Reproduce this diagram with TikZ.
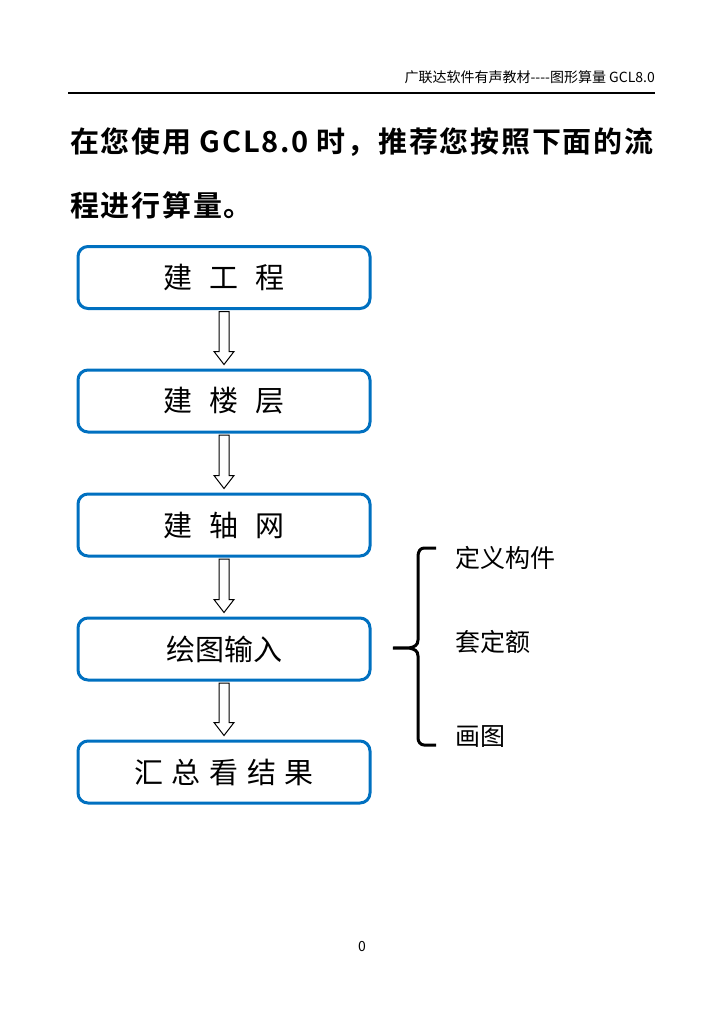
\documentclass[tikz,border=0pt]{standalone}
\usepackage{fontspec}
\usetikzlibrary{calc}
\setmainfont{Noto Sans CJK SC}
\newfontfamily\cjkb[LetterSpace=6]{Noto Sans CJK SC Bold}
\begin{document}
\begin{tikzpicture}[x=1pt,y=-1pt,
  box/.style={draw={rgb,255:red,0;green,112;blue,192},line width=3pt,rounded corners=10pt,minimum width=292pt,minimum height=62pt,inner sep=0pt,font=\fontsize{29}{29}\selectfont},
  side/.style={anchor=west,inner sep=0pt,font=\fontsize{25}{25}\selectfont}]
\useasboundingbox (0,0) rectangle (724,1024);
\node[anchor=east,inner sep=0pt,font=\fontsize{14}{14}\selectfont] (hdr) at (655,77) {广联达软件有声教材{-}{-}{-}{-}图形算量 GCL8.0};
\draw[line width=1.6pt] (68,93) -- (655,93);
\node[anchor=west,inner sep=0pt,font=\cjkb\fontsize{29}{29}\selectfont] (t1) at (70,142) {在您使用 GCL8.0 时，推荐您按照下面的流};
\node[anchor=west,inner sep=0pt,font=\cjkb\fontsize{29}{29}\selectfont] (t2) at (70,205) {程进行算量。};
\node[box] (b1) at (224,277.5) {建\hspace{0.6em}工\hspace{0.6em}程};
\node[box] (b2) at (224,401) {建\hspace{0.6em}楼\hspace{0.6em}层};
\node[box] (b3) at (224,525) {建\hspace{0.6em}轴\hspace{0.6em}网};
\node[box] (b4) at (224,649) {绘图输入};
\node[box] (b5) at (224,772) {汇\hspace{0.3em}总\hspace{0.3em}看\hspace{0.3em}结\hspace{0.3em}果};
\foreach \a/\b in {b1/b2,b2/b3,b3/b4,b4/b5}{
  \path (\a.south) ++(0,1.5) coordinate (s) (\b.north) ++(0,-4) coordinate (e);
  \draw[line width=1pt,fill=white] ($(s)+(-5,0)$) -- ($(e)+(-5,-13)$) -- ($(e)+(-10,-13)$) -- (e) -- ($(e)+(10,-13)$) -- ($(e)+(5,-13)$) -- ($(s)+(5,0)$) -- cycle;
}
\coordinate (bt) at (436,548);
\coordinate (bb) at (436,745);
\coordinate (bm) at (393,648);
\draw[line width=3pt] (bt) -- (424,548) to[out=180,in=90] (418,556) -- (418,640) to[out=-90,in=0] (bm) to[out=0,in=90] (418,656) -- (418,738) to[out=-90,in=180] (424,745) -- (bb);
\node[side] (s1) at (455,558) {定义构件};
\node[side] (s2) at (455,642) {套定额};
\node[side] (s3) at (455,737) {画图};
\node[inner sep=0pt,font=\fontsize{14}{14}\selectfont] (pg) at (362,946) {0};
\end{tikzpicture}
\end{document}
